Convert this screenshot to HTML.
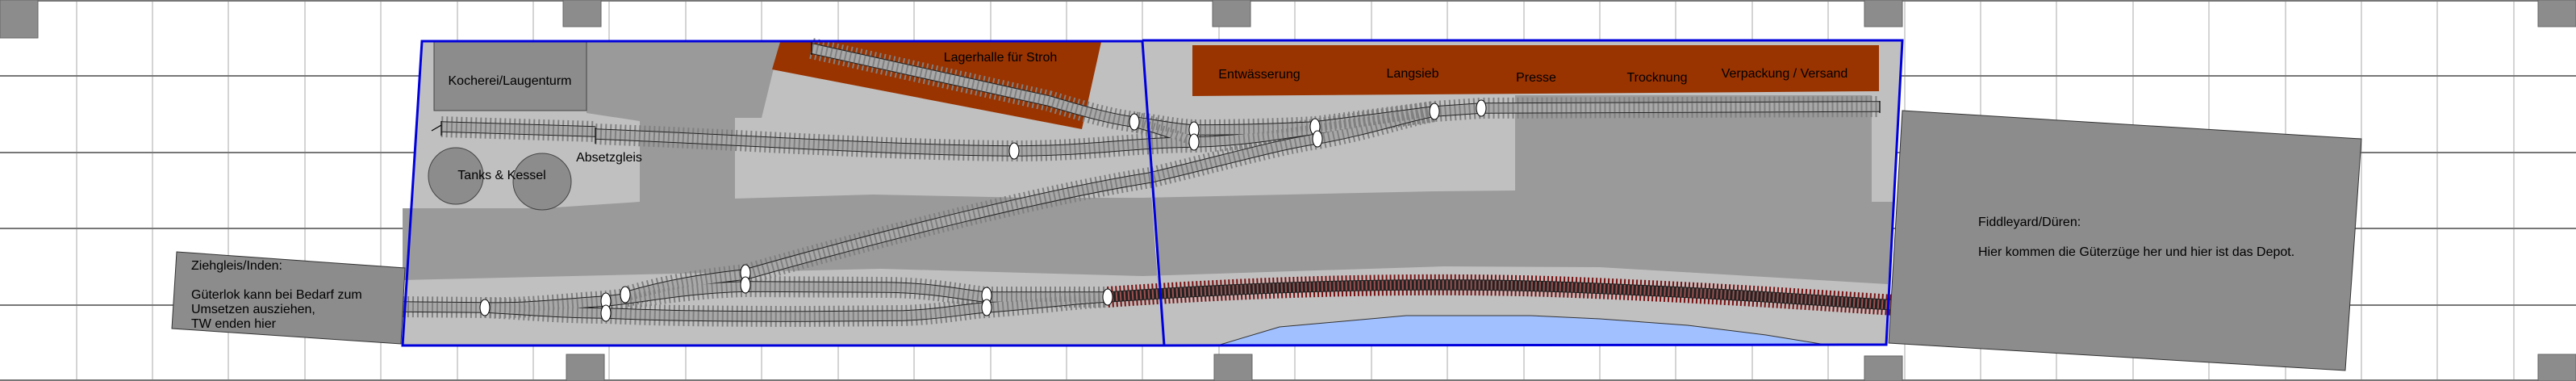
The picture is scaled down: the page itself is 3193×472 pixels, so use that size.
<!DOCTYPE html>
<html><head><meta charset="utf-8"><style>
html,body{margin:0;padding:0;background:#fff}
svg{display:block}
text{font-family:"Liberation Sans",sans-serif;font-size:16px;fill:#000}
#trk path{fill:none}
.ties{fill:none;stroke:#808080;stroke-width:26;stroke-dasharray:2 4}
.rails{fill:none;stroke:#222;stroke-width:13.5}
.inner{fill:none;stroke:#a8a8a8;stroke-width:11.5}
.inties{fill:none;stroke:#808080;stroke-width:11.5;stroke-dasharray:2 4}
.tk{fill:#fff;stroke:#000;stroke-width:1}
</style></head><body>
<svg width="3193" height="472" viewBox="0 0 3193 472" xmlns="http://www.w3.org/2000/svg">
<defs>
<g id="trk" fill="none">
<path fill="none" d="M547 157 L738 163"/>
<path fill="none" d="M738 166 C900 172 1100 186 1257 187 C1350 187 1400 177 1480 176 C1550 174 1590 165 1630 160 L1778 138 L1836 134 L2330 132"/>
<path fill="none" d="M1006 60 L1300 125 C1350 140 1380 148 1406 151 C1440 156 1460 160 1480 161 C1540 161 1590 159 1630 157 L1778 138"/>
<path fill="none" d="M1406 151 C1440 160 1470 171 1480 176"/>
<path fill="none" d="M499 380 L601 381 C660 382 700 376 751 373 C800 368 850 357 924 355 L1100 356 C1160 357 1190 365 1223 368 L1373 368"/>
<path fill="none" d="M601 381 C660 384 700 388 751 388 C800 390 850 392 1000 392 L1120 391 C1170 389 1200 382 1223 381 C1290 376 1330 370 1373 368"/>
<path fill="none" d="M775 368 C830 352 870 346 924 340 C1100 290 1300 240 1426 220 C1520 198 1580 180 1633 172 C1700 160 1740 145 1778 138"/>
</g>
</defs>
<g stroke="#aaa" stroke-width="1">
<path d="M95 0V472M189 0V472M283 0V472M378 0V472M472 0V472M567 0V472M661 0V472M755 0V472M850 0V472M944 0V472M1039 0V472M1133 0V472M1228 0V472M1322 0V472M1416 0V472M1511 0V472M1605 0V472M1700 0V472M1794 0V472M1889 0V472M1983 0V472M2077 0V472M2172 0V472M2266 0V472M2361 0V472M2455 0V472M2549 0V472M2644 0V472M2738 0V472M2833 0V472M2927 0V472M3021 0V472M3116 0V472"/>
</g>
<g stroke="#777" stroke-width="2">
<path d="M0 94H3193M0 189H3193M0 283H3193M0 378H3193M0 1H3193M0 471H3193"/>
</g>
<g fill="#8c8c8c" stroke="#666" stroke-width="1">
<rect x="0" y="0" width="47" height="47"/><rect x="698" y="0" width="47" height="33"/><rect x="1503" y="0" width="47" height="33"/><rect x="2311" y="0" width="47" height="33"/><rect x="3146" y="0" width="47" height="33"/>
<rect x="702" y="439" width="47" height="33"/><rect x="1505" y="439" width="47" height="33"/><rect x="2311" y="441" width="47" height="31"/><rect x="3146" y="439" width="47" height="33"/>
</g>
<polygon points="523,51 1416,51 1443,428 499,428" fill="#c0c0c0"/>
<polygon points="1416,50 2358,50 2338,427 1442,428" fill="#c0c0c0"/>
<polygon fill="#9a9a9a" points="727,52 967,52 944,146 911,146 911,246 1082,241 1276,245 1416,245 1777,237 1878,236 1878,118 2320,118 2320,250 2348,250 2340,352 1983,331 1789,330 1416,342 1092,333 499,347 499,258 673,258 793,250 793,150 727,140"/>
<polygon points="1509,428 1586,405 1743,391 1897,391 1983,395 2092,403 2189,415 2269,428" fill="#a0c0ff" stroke="#333" stroke-width="1"/>
<rect x="538" y="52" width="189" height="85" fill="#8c8c8c" stroke="#444" stroke-width="1"/>
<polygon points="967,52 1365,52 1341,160 957,86" fill="#993300"/>
<polygon points="1478,56 2329,56 2329,113 1478,119" fill="#993300"/>
<ellipse cx="565" cy="218" rx="34" ry="35" fill="#8c8c8c" stroke="#444"/>
<ellipse cx="672" cy="225" rx="36" ry="35" fill="#8c8c8c" stroke="#444"/>
<line x1="1428" y1="245" x2="1435" y2="342" stroke="#ddd" stroke-width="1"/>
<use href="#trk" class="ties"/>
<use href="#trk" class="rails"/>
<use href="#trk" class="inner"/>
<use href="#trk" class="inties"/>
<path d="M1373 368 C1600 352 1800 350 1950 356 C2150 364 2250 372 2348 378" fill="none" stroke="#7a1010" stroke-width="26" stroke-dasharray="2 3"/>
<path d="M1373 368 C1600 352 1800 350 1950 356 C2150 364 2250 372 2348 378" fill="none" stroke="#222" stroke-width="13.5"/>
<path d="M1373 368 C1600 352 1800 350 1950 356 C2150 364 2250 372 2348 378" fill="none" stroke="#9a5050" stroke-width="11.5" stroke-dasharray="2 3"/>
<g stroke="#000" stroke-width="1.2" fill="none">
<path d="M547 150V168M535 162L547 155M738 158V178M2330 125V140M1006 52V68M495 375V386M2348 372V385"/>
</g>
<g class="tk">
<ellipse cx="601" cy="381" rx="6" ry="10"/><ellipse cx="751" cy="373" rx="6" ry="10"/><ellipse cx="751" cy="388" rx="6" ry="10"/><ellipse cx="775" cy="365" rx="6" ry="10"/>
<ellipse cx="924" cy="338" rx="6" ry="10"/><ellipse cx="924" cy="353" rx="6" ry="10"/><ellipse cx="1223" cy="366" rx="6" ry="10"/><ellipse cx="1223" cy="381" rx="6" ry="10"/><ellipse cx="1373" cy="368" rx="6" ry="10"/>
<ellipse cx="1257" cy="187" rx="6" ry="10"/><ellipse cx="1406" cy="151" rx="6" ry="10"/><ellipse cx="1480" cy="161" rx="6" ry="10"/><ellipse cx="1480" cy="176" rx="6" ry="10"/>
<ellipse cx="1630" cy="157" rx="6" ry="10"/><ellipse cx="1633" cy="172" rx="6" ry="10"/><ellipse cx="1778" cy="138" rx="6" ry="10"/><ellipse cx="1836" cy="134" rx="6" ry="10"/>
</g>
<g fill="none" stroke="#0000dd" stroke-width="3">
<polygon points="523,51 1416,51 1443,428 499,428"/>
<polyline points="1416,50 2358,50 2338,427 1442,428"/>
</g>
<polygon points="219,312 502,332 497,426 213,407" fill="#8c8c8c" stroke="#333"/>
<polygon points="2358,137 2927,172 2907,459 2341,425" fill="#8c8c8c" stroke="#333"/>
<text x="632" y="105" text-anchor="middle">Kocherei/Laugenturm</text>
<text x="1240" y="76" text-anchor="middle">Lagerhalle für Stroh</text>
<text x="755" y="200" text-anchor="middle">Absetzgleis</text>
<text x="622" y="222" text-anchor="middle">Tanks &amp; Kessel</text>
<text x="1561" y="97" text-anchor="middle">Entwässerung</text>
<text x="1751" y="96" text-anchor="middle">Langsieb</text>
<text x="1904" y="101" text-anchor="middle">Presse</text>
<text x="2054" y="101" text-anchor="middle">Trocknung</text>
<text x="2212" y="96" text-anchor="middle">Verpackung / Versand</text>
<text x="237" y="334">Ziehgleis/Inden:</text>
<text x="237" y="370">Güterlok kann bei Bedarf zum</text>
<text x="237" y="388">Umsetzen ausziehen,</text>
<text x="237" y="406">TW enden hier</text>
<text x="2452" y="280">Fiddleyard/Düren:</text>
<text x="2452" y="317">Hier kommen die Güterzüge her und hier ist das Depot.</text>
</svg>
</body></html>
